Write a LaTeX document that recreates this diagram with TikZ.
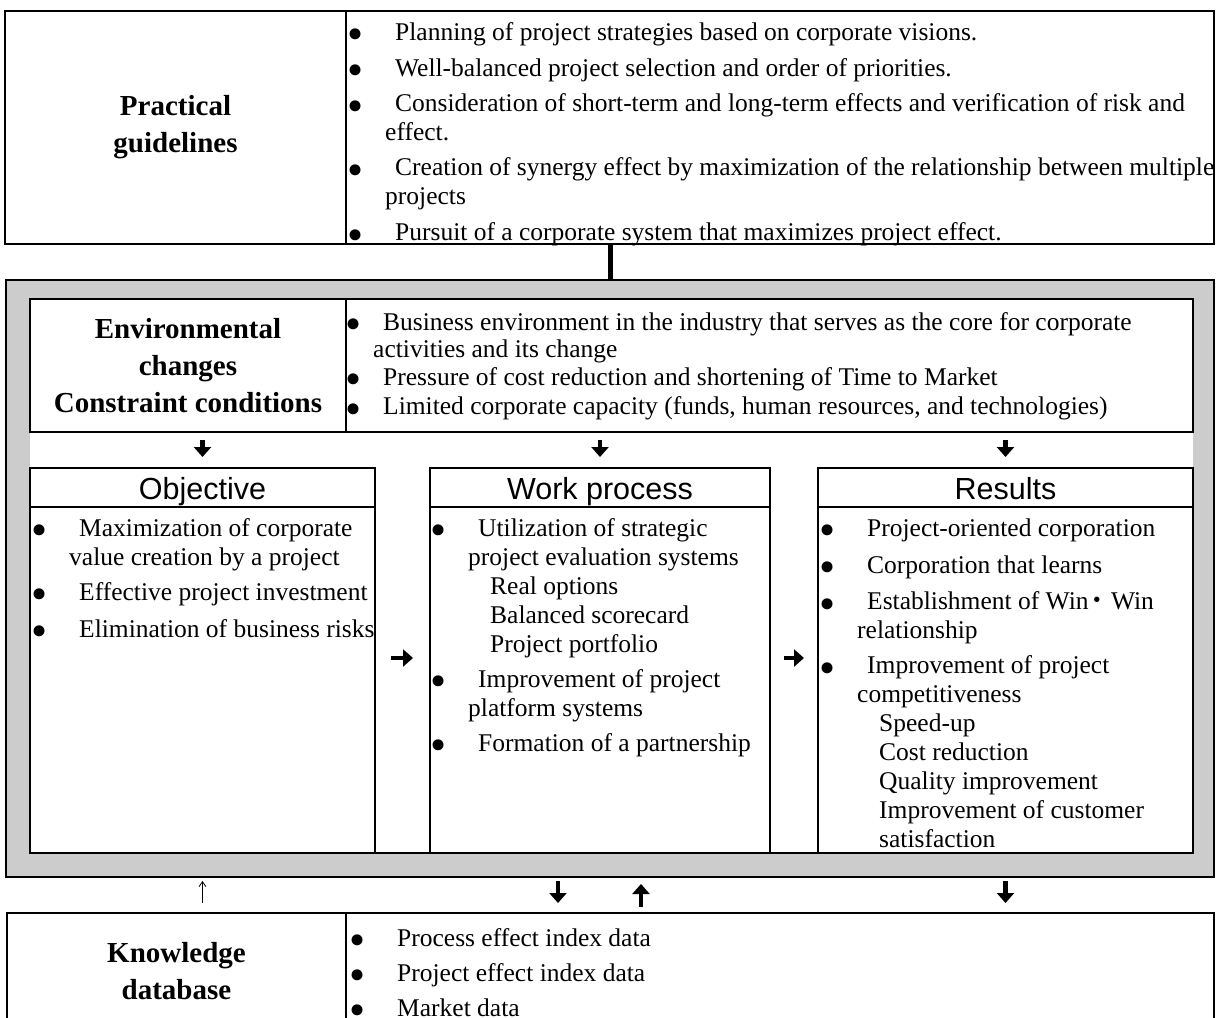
\documentclass[tikz,border=0pt]{standalone}
\usepackage{fontspec}
\setmainfont{Liberation Serif}
\newfontfamily\headfont{Liberation Sans}
\newfontfamily\cjk{Noto Sans CJK JP}
\usetikzlibrary{positioning}
\usetikzlibrary{arrows.meta}

\newcommand\blt{\raisebox{-9.5pt}{\scalebox{1.8}{\textbullet}}}
\newcommand\itm[1][22pt]{\strut\llap{\blt\hspace{#1}}\hspace*{10pt}}
\newcommand\subitm{\hspace*{22pt}}

\tikzset{
  cell/.style={draw, line width=2.5pt, outer sep=0pt, inner sep=0pt, anchor=north west},
  boldcell/.style={align=center, font=\bfseries\fontsize{29}{37}\selectfont},
  head/.style={font=\headfont\fontsize{30.5}{34}\selectfont, text height=26pt, text depth=2pt},
  list/.style={inner sep=0pt, align=left, font=\fontsize{25.5}{29}\selectfont},
  fat arrow/.style={line width=4.5pt, -{Triangle[length=10pt,width=17pt]}},
  thin arrow/.style={line width=0.8pt, -{Straight Barb[length=5pt,width=7pt]}},
}

\begin{document}
\begin{tikzpicture}[x=1pt, y=-1pt]
\useasboundingbox (0,0) rectangle (1220,1017);

% practical guidelines
\node[cell, boldcell, minimum width=341pt, minimum height=233pt] (guide-label) at (5,11) {Practical\\guidelines};
\node[cell, minimum width=868pt, minimum height=233pt, right=0pt of guide-label] (guide-list) {};
\node[list, below right=8.7pt and 39pt of guide-list.north west] (guide-items) {%
\itm Planning of project strategies based on corporate visions.\\[5pt]
\itm Well-balanced project selection and order of priorities.\\[5pt]
\itm Consideration of short-term and long-term effects and verification of risk and\\ effect.\\[6pt]
\itm Creation of synergy effect by maximization of the relationship between multiple\\ projects\\[7pt]
\itm Pursuit of a corporate system that maximizes project effect.};

% framework
\node[cell, fill=black!20, minimum width=1208pt, minimum height=597pt] (frame) at (6,280) {};
\draw[line width=5pt] (frame.north |- guide-list.south) -- (frame.north);
\fill[white] (30,299) rectangle (1193,853);

\node[cell, boldcell, minimum width=316pt, minimum height=133pt] (env-label) at (30,299) {Environmental\\changes\\Constraint conditions};
\node[cell, minimum width=847pt, minimum height=133pt, right=0pt of env-label] (env-list) {};
\node[list, font=\fontsize{25.5}{27.5}\selectfont, below right=11.75pt and 27pt of env-list.north west] (env-items) {%
\itm[12pt]Business environment in the industry that serves as the core for corporate\\ activities and its change\\
\itm[12pt]Pressure of cost reduction and shortening of Time to Market\\
\itm[12pt]Limited corporate capacity (funds, human resources, and technologies)};

\node[cell, head, minimum width=345pt, minimum height=39pt] (obj-head) at (30,468) {Objective};
\node[cell, minimum width=345pt, minimum height=346pt, below=0pt of obj-head] (obj) {};
\node[list, below right=8.7pt and 39pt of obj.north west] (obj-items) {%
\itm Maximization of corporate\\ value creation by a project\\[6pt]
\itm Effective project investment\\[6pt]
\itm Elimination of business risks};

\node[cell, head, minimum width=340pt, minimum height=39pt] (work-head) at (430,468) {Work process};
\node[cell, minimum width=340pt, minimum height=346pt, below=0pt of work-head] (work) {};
\node[list, below right=8.7pt and 38pt of work.north west] (work-items) {%
\itm Utilization of strategic\\ project evaluation systems\\
\subitm Real options\\ \subitm Balanced scorecard\\ \subitm Project portfolio\\[6pt]
\itm Improvement of project\\ platform systems\\[6pt]
\itm Formation of a partnership};

\node[cell, head, minimum width=375pt, minimum height=39pt] (res-head) at (818,468) {Results};
\node[cell, minimum width=375pt, minimum height=346pt, below=0pt of res-head] (res) {};
\node[list, below right=8.7pt and 39pt of res.north west] (res-items) {%
\itm Project-oriented corporation\\[6pt]
\itm Corporation that learns\\[6pt]
\itm Establishment of Win\kern-4pt{\cjk ・}\kern1pt Win\\ relationship\\[6pt]
\itm Improvement of project\\ competitiveness\\
\subitm Speed-up\\ \subitm Cost reduction\\ \subitm Quality improvement\\
\subitm Improvement of customer\\ \subitm satisfaction};

\draw[line width=2.5pt] (obj.south west) -- (res.south east);

\foreach \n in {obj-head, work-head, res-head}
  \draw[fat arrow, shorten <=8pt, shorten >=11pt] (\n.north |- env-label.south) -- (\n.north);
\draw[fat arrow, shorten <=16pt, shorten >=17pt] ([yshift=22pt]obj.east) -- ([yshift=22pt]work.west);
\draw[fat arrow, shorten <=14pt, shorten >=14pt] ([yshift=22pt]work.east) -- ([yshift=22pt]res.west);

% knowledge database
\node[cell, boldcell, minimum width=339pt, minimum height=116pt] (know-label) at (7,913) {Knowledge\\database};
\node[cell, minimum width=868pt, minimum height=116pt, right=0pt of know-label] (know-list) {};
\node[list, font=\fontsize{25.5}{35}\selectfont, below right=8.5pt and 41pt of know-list.north west] (know-items) {%
\itm Process effect index data\\
\itm Project effect index data\\
\itm Market data};

\draw[thin arrow, shorten <=10pt, shorten >=4pt] (obj.south |- know-label.north) -- (obj.south |- frame.south);
\draw[fat arrow, shorten <=4pt, shorten >=10pt] ([xshift=-42pt]work.south |- frame.south) -- ([xshift=-42pt]work.south |- know-list.north);
\draw[fat arrow, shorten <=6pt, shorten >=7pt] ([xshift=41pt]work.south |- know-list.north) -- ([xshift=41pt]work.south |- frame.south);
\draw[fat arrow, shorten <=4pt, shorten >=10pt] (res.south |- frame.south) -- (res.south |- know-list.north);

\end{tikzpicture}
\end{document}
